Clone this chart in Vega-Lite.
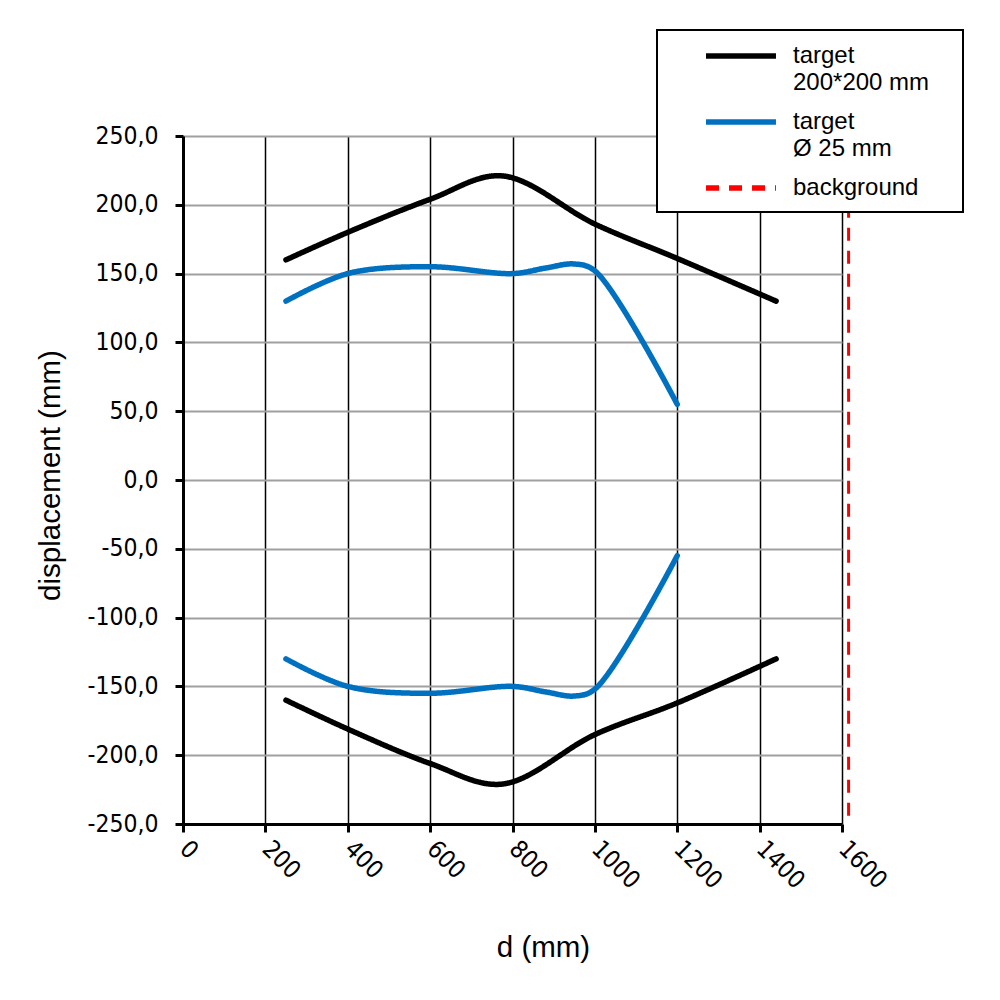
{
  "$schema": "https://vega.github.io/schema/vega-lite/v6.json",
  "autosize": {"type": "none"},
  "padding": {"left": 183, "top": 136, "right": 158, "bottom": 176},
  "width": 659,
  "height": 688,
  "background": "white",
  "layer": [
    {
      "data": {
        "values": [
          {"series": "target|200*200 mm", "branch": "upper", "d": 250, "v": 160},
          {"series": "target|200*200 mm", "branch": "upper", "d": 400, "v": 180},
          {"series": "target|200*200 mm", "branch": "upper", "d": 600, "v": 204},
          {"series": "target|200*200 mm", "branch": "upper", "d": 775, "v": 221},
          {"series": "target|200*200 mm", "branch": "upper", "d": 1000, "v": 186},
          {"series": "target|200*200 mm", "branch": "upper", "d": 1200, "v": 161},
          {"series": "target|200*200 mm", "branch": "upper", "d": 1440, "v": 130},
          {"series": "target|200*200 mm", "branch": "lower", "d": 250, "v": -160},
          {"series": "target|200*200 mm", "branch": "lower", "d": 400, "v": -181},
          {"series": "target|200*200 mm", "branch": "lower", "d": 600, "v": -206},
          {"series": "target|200*200 mm", "branch": "lower", "d": 775, "v": -221},
          {"series": "target|200*200 mm", "branch": "lower", "d": 1000, "v": -185},
          {"series": "target|200*200 mm", "branch": "lower", "d": 1200, "v": -162},
          {"series": "target|200*200 mm", "branch": "lower", "d": 1440, "v": -130},
          {"series": "target|Ø 25 mm", "branch": "upper", "d": 250, "v": 130},
          {"series": "target|Ø 25 mm", "branch": "upper", "d": 400, "v": 150},
          {"series": "target|Ø 25 mm", "branch": "upper", "d": 600, "v": 155},
          {"series": "target|Ø 25 mm", "branch": "upper", "d": 800, "v": 150},
          {"series": "target|Ø 25 mm", "branch": "upper", "d": 880, "v": 154},
          {"series": "target|Ø 25 mm", "branch": "upper", "d": 950, "v": 157},
          {"series": "target|Ø 25 mm", "branch": "upper", "d": 1000, "v": 152},
          {"series": "target|Ø 25 mm", "branch": "upper", "d": 1200, "v": 55},
          {"series": "target|Ø 25 mm", "branch": "lower", "d": 250, "v": -130},
          {"series": "target|Ø 25 mm", "branch": "lower", "d": 400, "v": -150},
          {"series": "target|Ø 25 mm", "branch": "lower", "d": 600, "v": -155},
          {"series": "target|Ø 25 mm", "branch": "lower", "d": 800, "v": -150},
          {"series": "target|Ø 25 mm", "branch": "lower", "d": 880, "v": -154},
          {"series": "target|Ø 25 mm", "branch": "lower", "d": 950, "v": -157},
          {"series": "target|Ø 25 mm", "branch": "lower", "d": 1000, "v": -152},
          {"series": "target|Ø 25 mm", "branch": "lower", "d": 1200, "v": -55}
        ]
      },
      "mark": {"type": "line", "interpolate": "catmull-rom", "strokeWidth": 5.5, "strokeCap": "round"},
      "encoding": {
        "x": {"field": "d", "type": "quantitative"},
        "y": {"field": "v", "type": "quantitative"},
        "detail": {"field": "branch"},
        "color": {"field": "series", "type": "nominal"},
        "strokeDash": {"field": "series", "type": "nominal"}
      }
    },
    {
      "data": {
        "values": [
          {"series": "background", "d": 1616, "v": -244, "v2": 250}
        ]
      },
      "mark": {"type": "rule", "strokeWidth": 3},
      "encoding": {
        "x": {"field": "d", "type": "quantitative"},
        "y": {"field": "v", "type": "quantitative"},
        "y2": {"field": "v2"},
        "color": {"field": "series", "type": "nominal"},
        "strokeDash": {"field": "series", "type": "nominal"}
      }
    }
  ],
  "encoding": {
    "x": {
      "field": "d",
      "type": "quantitative",
      "scale": {"domain": [0, 1600], "nice": false},
      "axis": {
        "title": "d (mm)",
        "values": [0, 200, 400, 600, 800, 1000, 1200, 1400, 1600],
        "format": "d",
        "labelAngle": 45,
        "labelAlign": "left",
        "labelBaseline": "middle",
        "labelPadding": 13,
        "labelFlush": false,
        "labelOverlap": false,
        "gridColor": "black",
        "gridWidth": 1.5,
        "titleX": 360,
        "titleY": 123,
        "titleBaseline": "middle"
      }
    },
    "y": {
      "field": "v",
      "type": "quantitative",
      "scale": {"domain": [-250, 250], "nice": false},
      "axis": {
        "title": "displacement (mm)",
        "values": [-250, -200, -150, -100, -50, 0, 50, 100, 150, 200, 250],
        "labelExpr": "(datum.value < 0 ? '-' : '') + replace(format(abs(datum.value), '.1f'), '.', ',')",
        "labelPadding": 17,
        "gridColor": "#a0a0a0",
        "gridWidth": 2,
        "titleX": -133,
        "titleY": 339,
        "titleBaseline": "middle"
      }
    },
    "color": {
      "field": "series",
      "type": "nominal",
      "scale": {
        "domain": ["target|200*200 mm", "target|Ø 25 mm", "background"],
        "range": ["#000000", "#0070C0", "#FF0000"]
      },
      "legend": {
        "title": " ",
        "titleOrient": "right",
        "titlePadding": 22,
        "orient": "none",
        "legendX": 474,
        "legendY": -106,
        "symbolType": "M-3.18,0H3.18",
        "symbolSize": 484,
        "symbolStrokeWidth": 5.5,
        "symbolOffset": 58,
        "labelExpr": "split(datum.label, '|')",
        "labelFont": "Liberation Sans",
        "labelFontSize": 24,
        "labelColor": "black",
        "labelOffset": 38,
        "labelLimit": 300,
        "padding": 12,
        "rowPadding": 13,
        "strokeColor": "black",
        "fillColor": "white",
        "encode": {"labels": {"update": {"lineHeight": {"value": 27}}}}
      }
    },
    "strokeDash": {
      "field": "series",
      "type": "nominal",
      "scale": {
        "domain": ["target|200*200 mm", "target|Ø 25 mm", "background"],
        "range": [[1, 0], [1, 0], [13, 10]]
      }
    }
  },
  "config": {
    "view": {"stroke": null},
    "axis": {
      "domainColor": "black",
      "domainWidth": 3,
      "tickColor": "black",
      "tickWidth": 3,
      "tickSize": 8,
      "labelFont": "DejaVu Sans Condensed, Liberation Sans",
      "labelFontSize": 24.5,
      "labelColor": "black",
      "titleFont": "Liberation Sans",
      "titleFontSize": 29.5,
      "titleFontWeight": "normal",
      "titleColor": "black"
    },
    "legend": {"strokeWidth": 2}
  }
}
